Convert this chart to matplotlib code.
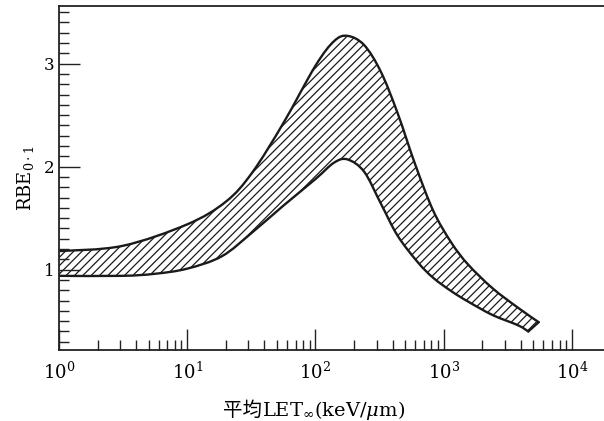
import numpy as np
import matplotlib
matplotlib.use('Agg')
import matplotlib.pyplot as plt
from matplotlib.path import Path
from matplotlib.patches import PathPatch
from matplotlib.ticker import LogLocator, MultipleLocator, FixedLocator, NullFormatter
from matplotlib.offsetbox import TextArea, HPacker, AnchoredOffsetbox

plt.rcParams['font.family'] = ['DejaVu Serif', 'Noto Sans CJK JP']
plt.rcParams['mathtext.fontset'] = 'custom'
plt.rcParams['mathtext.rm'] = 'DejaVu Serif'
plt.rcParams['mathtext.it'] = 'DejaVu Serif:italic'
plt.rcParams['hatch.linewidth'] = 0.9

# 上限曲线 (平均LET, RBE)
let_upper = [1.0, 3.1, 10, 20, 32, 56, 100, 140, 178, 240, 324, 437, 600, 830, 1150, 1550, 2400, 3800, 5500]
rbe_upper = [1.18, 1.23, 1.44, 1.66, 1.94, 2.42, 2.98, 3.22, 3.27, 3.18, 2.92, 2.52, 2.02, 1.57, 1.26, 1.05, 0.82, 0.63, 0.49]
# 下限曲线
let_lower = [1.0, 3.1, 5.6, 10, 18.6, 32, 56, 100, 140, 178, 240, 324, 437, 630, 830,
             1150, 1550, 2400, 3800, 4570]
rbe_lower = [0.94, 0.94, 0.96, 1.01, 1.13, 1.36, 1.62, 1.88, 2.04, 2.07, 1.95, 1.64, 1.33, 1.07, 0.92,
             0.79, 0.69, 0.56, 0.46, 0.40]


def bezier_segments(xv, yv):
    # Catmull-Rom -> cubic bezier, 在 log(x) 空间里平滑连接各点
    p = np.column_stack([np.log10(xv), yv])
    n = len(p)
    verts, codes = [], []
    for i in range(n - 1):
        p0 = p[max(i - 1, 0)]
        p1, p2 = p[i], p[i + 1]
        p3 = p[min(i + 2, n - 1)]
        c1 = p1 + (p2 - p0) / 6
        c2 = p2 - (p3 - p1) / 6
        verts += [c1, c2, p2]
        codes += [Path.CURVE4] * 3
    verts = np.array(verts)
    verts[:, 0] = 10 ** verts[:, 0]
    start = np.array([[xv[0], yv[0]]])
    return start, verts, codes


fig = plt.figure(figsize=(6.04, 4.21), dpi=100, facecolor='white')
ax = fig.add_axes([59 / 604, 1 - 350 / 421, (604 - 59) / 604, (350 - 6) / 421])
ax.set_xscale('log')
ax.set_xlim(1, 10 ** 4.25)
ax.set_ylim(0.22, 3.56)

su, vu, cu = bezier_segments(let_upper, rbe_upper)
sl, vl, cl = bezier_segments(let_lower[::-1], rbe_lower[::-1])

# 斜线阴影带 (闭合区域)
band_verts = np.vstack([su, vu, sl, vl, su])
band_codes = [Path.MOVETO] + cu + [Path.LINETO] + cl + [Path.CLOSEPOLY]
band = PathPatch(Path(band_verts, band_codes), facecolor='none', edgecolor='#1a1a1a',
                 hatch='////', lw=0, transform=ax.transData)
ax.add_patch(band)

# 边界曲线
for s, v, c in [(su, vu, cu), (sl, vl, cl)]:
    ax.add_patch(PathPatch(Path(np.vstack([s, v]), [Path.MOVETO] + c), facecolor='none',
                           edgecolor='#1a1a1a', lw=1.7, capstyle='round', joinstyle='round'))
ax.plot([let_upper[-1], let_lower[-1]], [rbe_upper[-1], rbe_lower[-1]], color='#1a1a1a', lw=1.7,
        solid_capstyle='round')

ax.xaxis.set_major_locator(LogLocator(base=10, numticks=10))
ax.xaxis.set_minor_locator(LogLocator(base=10, subs=np.arange(2, 10), numticks=20))
ax.xaxis.set_minor_formatter(NullFormatter())
ax.yaxis.set_major_locator(FixedLocator([1, 2, 3]))
ax.yaxis.set_minor_locator(MultipleLocator(0.1))

ax.tick_params(axis='both', which='major', direction='in', length=15, width=1.0, labelsize=13, color='#222')
ax.tick_params(axis='both', which='minor', direction='in', length=7, width=1.0, color='#222')
ax.tick_params(axis='x', which='major', pad=8)
ax.tick_params(axis='y', which='major', labelsize=12, pad=3)

for name in ['left', 'bottom', 'top']:
    ax.spines[name].set_linewidth(1.3)
    ax.spines[name].set_color('#222')
ax.spines['right'].set_visible(False)

ax.set_ylabel(r'RBE$_{0\cdot1}$', fontsize=13, labelpad=6)

# 横轴标题: 中文 + LET∞
part1 = TextArea('平均', textprops=dict(fontsize=14, family='Noto Sans CJK JP'))
part2 = TextArea(r'LET$_{\infty}$(keV/$\mu$m)', textprops=dict(fontsize=14))
box = HPacker(children=[part1, part2], align='baseline', pad=0, sep=0)
anchored = AnchoredOffsetbox(loc='center', child=box, frameon=False,
                             bbox_to_anchor=(314 / 604, 1 - 410 / 421),
                             bbox_transform=fig.transFigure, borderpad=0, pad=0)
fig.add_artist(anchored)

plt.savefig('out.png', dpi=100, facecolor='white')
